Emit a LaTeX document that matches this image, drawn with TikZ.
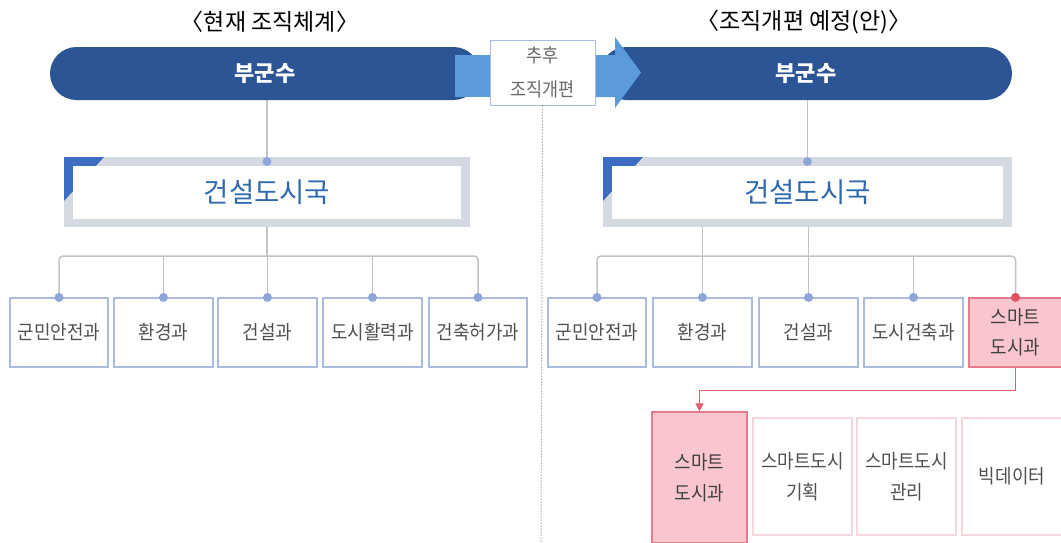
\documentclass[tikz,border=0pt]{standalone}
\usepackage{fontspec}
\setmainfont{Noto Sans CJK KR}
\newfontfamily\cond{Noto Sans CJK KR}[FakeStretch=0.92]
\usetikzlibrary{arrows.meta}
\definecolor{pillblue}{HTML}{2C5596}
\definecolor{lightblue}{HTML}{5B9BDB}
\definecolor{framegray}{HTML}{D5D9E2}
\definecolor{cornerblue}{HTML}{3D6CC4}
\definecolor{bureautext}{HTML}{2F6AAE}
\definecolor{dotblue}{HTML}{8EA5DA}
\definecolor{boxborder}{HTML}{A9BCE0}
\definecolor{linegray}{HTML}{C3C3C3}
\definecolor{txtgray}{HTML}{505050}
\definecolor{pinkfill}{HTML}{F8C6CC}
\definecolor{pinkborder}{HTML}{E57B8B}
\definecolor{palepink}{HTML}{F4D6DB}
\definecolor{reddot}{HTML}{E5505E}
\definecolor{redline}{HTML}{E2606E}
\tikzset{
  pill/.style={fill=pillblue, rounded corners=26.5pt, minimum height=53pt, inner sep=0pt,
    text=white, font=\fontsize{22}{24}\selectfont\bfseries},
  bureau/.style={fill=white, minimum width=388pt, minimum height=53pt, inner sep=0pt,
    text=bureautext, font=\fontsize{27.5}{30}\selectfont},
  dept/.style={draw=boxborder, line width=1.2pt, fill=white, minimum height=69pt, inner sep=0pt,
    text=txtgray, align=center, font=\cond\fontsize{19.5}{30}\selectfont},
  smart/.style={dept, draw=pinkborder, fill=pinkfill, text=black!75},
  sub/.style={draw=palepink, line width=1.2pt, fill=white, minimum height=117pt, minimum width=99pt,
    inner sep=0pt, text=txtgray, align=center, font=\cond\fontsize{19.5}{31}\selectfont},
  conn/.style={draw=linegray, line width=1.5pt, rounded corners=4pt},
  dot/.style={circle, fill=dotblue, inner sep=0pt, minimum size=9pt},
  rdot/.style={circle, fill=reddot, inner sep=0pt, minimum size=9pt},
  ttl/.style={font=\fontsize{23}{26}\selectfont, text=black}
}
\begin{document}
\begin{tikzpicture}[x=1pt,y=-1pt]
\useasboundingbox (0,0) rectangle (1061,542);
\fill[white] (0,0) rectangle (1061,542);

% titles
\node[ttl] (t1) at (270,22) {〈현재 조직체계〉};
\node[ttl] (t2) at (804,22) {〈조직개편 예정(안)〉};

% dotted divider
\coordinate (divend) at (541,542);

% left pill
\node[pill, minimum width=430pt] (lp) at (265,73.5) {부군수};
\fill[lightblue] (455,55) rectangle (490,97);
% right pill
\node[pill, minimum width=412pt] (rp) at (806,73.5) {부군수};
% arrow
\fill[lightblue] (595,55) -- (615,55) -- (615,37) -- (641,72.5) -- (615,108) -- (615,97) -- (595,97) -- cycle;
% later reorganisation box
\node[draw=boxborder, line width=1pt, fill=white, minimum width=105pt, minimum height=65pt,
  inner sep=0pt, align=center, text=txtgray!85, font=\cond\fontsize{19}{34}\selectfont] (mid) at (542.5,72.5) {추후\\조직개편};
\draw[gray, line width=1pt, dotted] (mid.south) -- (divend);

% left bureau
\fill[framegray] (64,157) rectangle (470,227);
\fill[cornerblue] (64,157) -- (104,157) -- (64,201) -- cycle;
\node[bureau] (lb) at (267,192.5) {건설도시국};
\coordinate (lbt) at (267,161.5);
\coordinate (lbb) at (267,227);
% right bureau
\fill[framegray] (603,157) rectangle (1012,227);
\fill[cornerblue] (603,157) -- (643,157) -- (603,201) -- cycle;
\node[bureau, minimum width=391pt] (rb) at (807.5,192.5) {건설도시국};
\coordinate (rbt) at (807.5,161.5);

% left departments
\node[dept, minimum width=98pt] (l1) at (59,332.5) {군민안전과};
\node[dept, minimum width=99pt] (l2) at (163.5,332.5) {환경과};
\node[dept, minimum width=99pt] (l3) at (267.5,332.5) {건설과};
\node[dept, minimum width=99pt] (l4) at (372.5,332.5) {도시활력과};
\node[dept, minimum width=98pt] (l5) at (478,332.5) {건축허가과};

% right departments
\node[dept, minimum width=98pt] (r1) at (597,332.5) {군민안전과};
\node[dept, minimum width=99pt] (r2) at (702.5,332.5) {환경과};
\node[dept, minimum width=99pt] (r3) at (808.5,332.5) {건설과};
\node[dept, minimum width=99pt] (r4) at (913.5,332.5) {도시건축과};
\node[smart, minimum width=93pt] (r5) at (1015.5,332.5) {스마트\\도시과};

% sub teams
\node[sub, draw=pinkborder, fill=pinkfill, text=black!75, minimum width=95pt, minimum height=131pt] (b1) at (699.5,477.5) {스마트\\도시과};
\node[sub] (b2) at (802.5,476.5) {스마트도시\\기획};
\node[sub] (b3) at (906.5,476.5) {스마트도시\\관리};
\node[sub, minimum width=100pt] (b4) at (1012,476.5) {빅데이터};

% left connectors
\draw[conn] (lp.south -| lbt) -- (lbt);
\draw[conn] (lbb) -- (lbb |- 0,256);
\draw[conn] (l1.north) -- (l1.north |- 0,256) -- (l5.north |- 0,256) -- (l5.north);
\foreach \n in {l2,l3,l4} \draw[conn] (\n.north |- 0,256) -- (\n.north);
\foreach \n in {l1,l2,l3,l4,l5} \node[dot] at (\n.north) {};
\node[dot] at (lbt) {};

% right connectors
\draw[conn] (rp.south -| rbt) -- (rbt);
\draw[conn] (r1.north) -- (r1.north |- 0,256) -- (r5.north |- 0,256) -- (r5.north);
\draw[conn] (r2.north |- 0,227) -- (r2.north);
\draw[conn] (r3.north |- 0,227) -- (r3.north);
\draw[conn] (r4.north |- 0,256) -- (r4.north);
\foreach \n in {r1,r2,r3,r4} \node[dot] at (\n.north) {};
\node[rdot] at (r5.north) {};
\node[dot] at (rbt) {};

% red connector
\draw[redline, line width=1.4pt, -{Triangle[length=8pt,width=8pt]}] (r5.south) -- ++(0,23) -| (b1.north);
\end{tikzpicture}
\end{document}
